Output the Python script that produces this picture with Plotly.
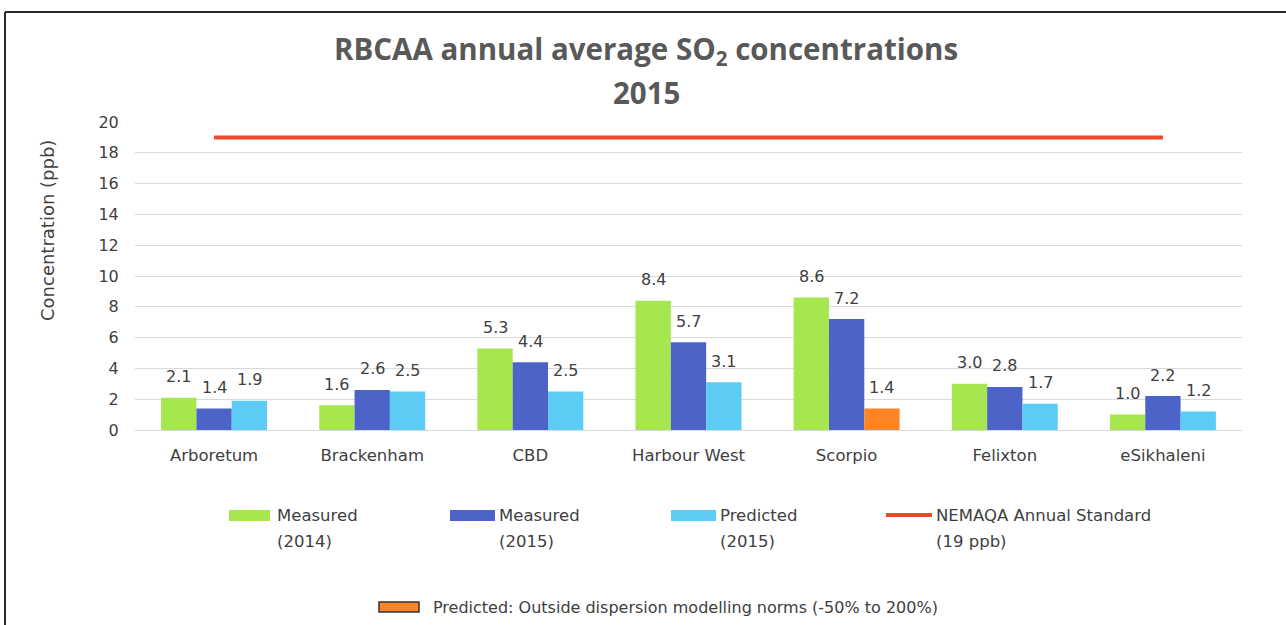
import plotly.graph_objects as go

categories = ["Arboretum", "Brackenham", "CBD", "Harbour West", "Scorpio", "Felixton", "eSikhaleni"]
measured_2014 = [2.1, 1.6, 5.3, 8.4, 8.6, 3.0, 1.0]
measured_2015 = [1.4, 2.6, 4.4, 5.7, 7.2, 2.8, 2.2]
predicted_2015 = [1.9, 2.5, 2.5, 3.1, 1.4, 1.7, 1.2]
outside_norms = [False, False, False, False, True, False, False]
standard_19 = [19, 19, 19, 19, 19, 19, 19]
y_ticks = [0, 2, 4, 6, 8, 10, 12, 14, 16, 18, 20]

C_GREEN = "#A6E64E"
C_BLUE = "#4C64C8"
C_CYAN = "#5CCCF4"
C_ORANGE = "#FF8424"
C_RED = "#F0462A"
TXT = "#404040"
FONT = "DejaVu Sans"

W, H = 1286, 625
L, R, T, B = 135, 44, 122, 195
PW, PH = W - L - R, H - T - B


def px_x(px):
    return (px - L) / PW


def px_y(py):
    return (H - B - py) / PH


BARGAP = 0.33
fig = go.Figure()
series = [
    ("Measured (2014)", measured_2014, [C_GREEN] * 7),
    ("Measured (2015)", measured_2015, [C_BLUE] * 7),
    ("Predicted (2015)", predicted_2015, [C_ORANGE if o else C_CYAN for o in outside_norms]),
]
for name, vals, cols in series:
    fig.add_trace(go.Bar(x=categories, y=vals, name=name, marker=dict(color=cols, line=dict(width=0)),
                         showlegend=False, hoverinfo="x+y"))

fig.add_trace(go.Scatter(x=categories, y=standard_19, mode="lines", name="NEMAQA Annual Standard (19 ppb)",
                         line=dict(color=C_RED, width=4), showlegend=False))

annotations = []
bw = (1 - BARGAP) / 3
for si, (name, vals, cols) in enumerate(series):
    off = (si - 1) * bw
    for ci, v in enumerate(vals):
        annotations.append(dict(x=ci + off, y=v, xref="x", yref="y", text=f"{v:.1f}", showarrow=False,
                                yanchor="middle", yshift=21, font=dict(family=FONT, size=16, color=TXT)))

# Title (centred on the page)
annotations.append(dict(x=px_x(646), y=px_y(50), xref="paper", yref="paper",
                        text="<b>RBCAA annual average SO<sub>2</sub> concentrations</b>", showarrow=False,
                        xanchor="center", yanchor="middle",
                        font=dict(family="Open Sans", size=29.5, color="#595959")))
annotations.append(dict(x=px_x(646), y=px_y(92), xref="paper", yref="paper", text="<b>2015</b>", showarrow=False,
                        xanchor="center", yanchor="middle",
                        font=dict(family="Open Sans", size=29.5, color="#595959")))
# Y title
annotations.append(dict(x=px_x(47), y=px_y(231), xref="paper", yref="paper", text="Concentration (ppb)",
                        showarrow=False, textangle=-90, xanchor="center", yanchor="middle",
                        font=dict(family=FONT, size=18, color=TXT)))

shapes = []
legend_items = [
    ("rect", C_GREEN, 229, 270, "Measured", "(2014)", 275),
    ("rect", C_BLUE, 450, 495, "Measured", "(2015)", 497),
    ("rect", C_CYAN, 671, 716, "Predicted", "(2015)", 718),
    ("line", C_RED, 886, 932, "NEMAQA Annual Standard", "(19 ppb)", 934),
]
LEG = 16.5
for kind, col, x0, x1, t1, t2, tx in legend_items:
    if kind == "rect":
        shapes.append(dict(type="rect", xref="paper", yref="paper", x0=px_x(x0), x1=px_x(x1),
                           y0=px_y(521), y1=px_y(510), fillcolor=col, line=dict(width=0)))
    else:
        shapes.append(dict(type="line", xref="paper", yref="paper", x0=px_x(x0), x1=px_x(x1),
                           y0=px_y(515), y1=px_y(515), line=dict(color=col, width=4)))
    annotations.append(dict(x=px_x(tx), y=px_y(515), xref="paper", yref="paper", text=t1, showarrow=False,
                            xanchor="left", yanchor="middle", font=dict(family=FONT, size=LEG, color=TXT)))
    annotations.append(dict(x=px_x(tx), y=px_y(541), xref="paper", yref="paper", text=t2, showarrow=False,
                            xanchor="left", yanchor="middle", font=dict(family=FONT, size=LEG, color=TXT)))

shapes.append(dict(type="rect", xref="paper", yref="paper", x0=px_x(379), x1=px_x(419),
                   y0=px_y(612), y1=px_y(602), fillcolor=C_ORANGE, line=dict(color="#333333", width=1.5)))
annotations.append(dict(x=px_x(431), y=px_y(607), xref="paper", yref="paper",
                        text="Predicted: Outside dispersion modelling norms (-50% to 200%)", showarrow=False,
                        xanchor="left", yanchor="middle", font=dict(family=FONT, size=16, color=TXT)))

# outer frame
shapes.append(dict(type="line", xref="paper", yref="paper", x0=px_x(5), x1=px_x(5), y0=px_y(640), y1=px_y(12),
                   line=dict(color="#2a2a2a", width=2)))
shapes.append(dict(type="line", xref="paper", yref="paper", x0=px_x(5), x1=px_x(1300), y0=px_y(12), y1=px_y(12),
                   line=dict(color="#2a2a2a", width=2)))

fig.update_layout(
    width=W, height=H, autosize=False,
    margin=dict(l=L, r=R, t=T, b=B, pad=0),
    paper_bgcolor="white", plot_bgcolor="white",
    barmode="group", bargap=BARGAP, bargroupgap=0,
    showlegend=False,
    annotations=annotations, shapes=shapes,
    font=dict(family=FONT, size=16, color=TXT),
)
fig.update_xaxes(type="category", range=[-0.5, 6.5], showgrid=False, showline=False, zeroline=False,
                 ticks="outside", ticklen=10, tickcolor="rgba(0,0,0,0)",
                 tickfont=dict(family=FONT, size=16.5, color=TXT))
fig.update_yaxes(range=[0, 20], tickvals=y_ticks, showgrid=True, gridcolor="#D9D9D9", gridwidth=1,
                 zeroline=True, zerolinecolor="#D9D9D9", zerolinewidth=1, showline=False,
                 ticks="outside", ticklen=12, tickcolor="rgba(0,0,0,0)",
                 tickfont=dict(family=FONT, size=16, color=TXT))

fig.write_html("out.html", config={"displayModeBar": False},
               post_script="document.body.style.margin='0';document.body.style.padding='0';"
                           "document.documentElement.style.overflow='hidden';")
